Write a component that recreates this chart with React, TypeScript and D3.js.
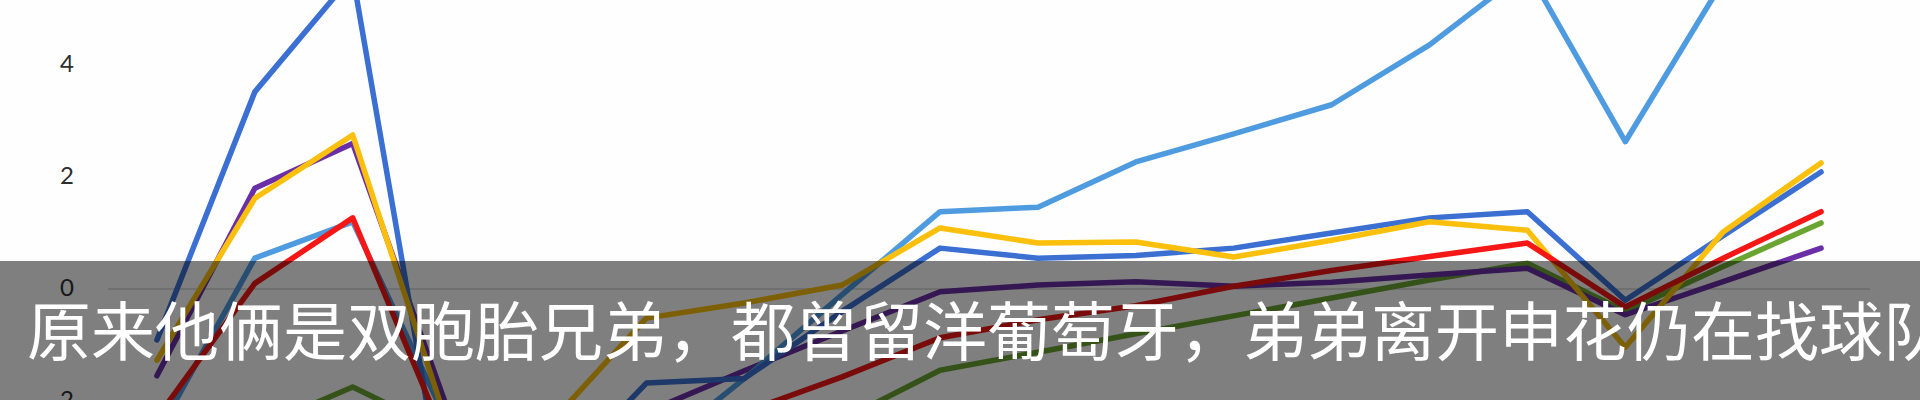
import React from 'react';
import * as d3 from 'd3';

const categories = ['1','2','3','4','5','6','7','8','9','10','11','12','13','14','15','16','17','18'];

const medBlue   = [-0.91, 3.52, 5.6, -4.5, -3.5, -1.68, -1.6, -0.4, 0.73, 0.55, 0.6, 0.73, 1.0, 1.27, 1.38, -0.2, 0.95, 2.09];
const lightBlue = [-2.6, 0.55, 1.2, -2.5, -3.2, -3.0, -1.6, -0.1, 1.38, 1.46, 2.27, 2.77, 3.29, 4.36, 5.7, 2.63, 5.5, 6.0];
const yellow    = [-1.27, 1.62, 2.75, -2.6, -2.43, -0.52, -0.25, 0.07, 1.09, 0.82, 0.84, 0.57, 0.87, 1.2, 1.05, -1.04, 1.02, 2.25];
const purple    = [-1.55, 1.8, 2.6, -2.3, -2.8, -2.2, -1.46, -0.75, -0.05, 0.07, 0.13, 0.05, 0.12, 0.25, 0.37, -0.46, 0.13, 0.73];
const red       = [-2.3, 0.1, 1.27, -2.9, -3.0, -2.8, -2.2, -1.57, -0.87, -0.55, -0.3, 0.05, 0.33, 0.58, 0.82, -0.32, 0.55, 1.38];
const green     = [-3.0, -2.5, -1.75, -2.6, -3.0, -3.0, -2.8, -2.34, -1.45, -1.13, -0.8, -0.48, -0.16, 0.16, 0.46, -0.4, 0.4, 1.18];

const yTicks = [-2, 0, 2, 4];
const subtitle = '原来他俩是双胞胎兄弟，都曾留洋葡萄牙，弟弟离开申花仍在找球队';

const series = [
  { name: 'green', values: green, color: '#6aa532' },
  { name: 'purple', values: purple, color: '#6a2fa6' },
  { name: 'lightBlue', values: lightBlue, color: '#4f9be0' },
  { name: 'medBlue', values: medBlue, color: '#3a6fd2' },
  { name: 'yellow', values: yellow, color: '#fbc008' },
  { name: 'red', values: red, color: '#f51414' },
];

export default function App() {
  const W = 1920, H = 400;
  const x = d3.scalePoint<string>().domain(categories).range([108, 1870]).padding(0.5);
  const y = d3.scaleLinear().domain([-2, 4]).range([401, 65]);
  const line = d3.line<number>()
    .x((_, i) => x(categories[i]) as number)
    .y((d) => y(d));

  return (
    <svg width={W} height={H} style={{ position: 'absolute', left: 0, top: 0, display: 'block', background: '#fff' }}>
      <defs>
        <filter id="soft" x="-5%" y="-5%" width="110%" height="110%">
          <feGaussianBlur stdDeviation="0.6" />
        </filter>
      </defs>
      <rect x={0} y={0} width={W} height={H} fill="#fefefe" />
      <line x1={108} x2={1870} y1={y(0)} y2={y(0)} stroke="#d4d4d4" strokeWidth={1.5} />
      {yTicks.map((t) => (
        <text key={t} x={74} y={y(t) - 2} dy="0.36em" textAnchor="end" fontFamily="Lato, 'Open Sans', sans-serif" fontSize={24} fill="#2e2e2e">{t}</text>
      ))}
      <g filter="url(#soft)">
        {series.map((s) => (
          <path key={s.name} d={line(s.values) as string} fill="none" stroke={s.color} strokeWidth={5.5} strokeLinejoin="round" strokeLinecap="round" />
        ))}
      </g>
      <rect x={0} y={261} width={W} height={H - 261} fill="rgba(0,0,0,0.5)" />
      <text x={27} y={355} fontFamily="'Noto Sans CJK SC', sans-serif" fontSize={64} fill="#ffffff">{subtitle}</text>
    </svg>
  );
}
